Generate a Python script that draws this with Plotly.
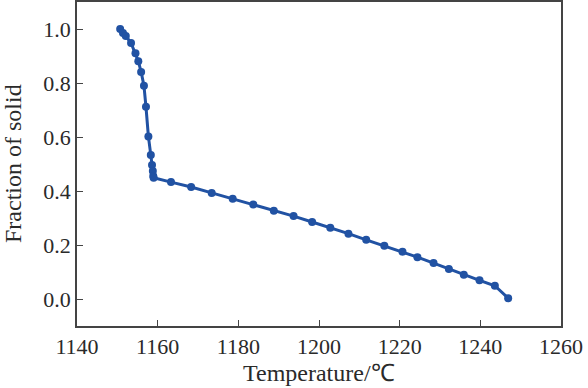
import plotly.graph_objects as go

temperature = [1150.7, 1151.4, 1152.1, 1153.4, 1154.5, 1155.2, 1155.9, 1156.6, 1157.1,
               1157.7, 1158.3, 1158.6, 1158.8, 1158.9, 1159.0,
               1163.3, 1168.3, 1173.4, 1178.6, 1183.7, 1188.8, 1193.7, 1198.3, 1202.8,
               1207.3, 1211.7, 1216.2, 1220.7, 1224.4, 1228.4, 1232.2, 1235.9, 1239.8,
               1243.6, 1246.9]
fraction_solid = [1.000, 0.985, 0.974, 0.948, 0.910, 0.881, 0.841, 0.790, 0.712,
                  0.602, 0.533, 0.496, 0.474, 0.456, 0.449,
                  0.433, 0.415, 0.393, 0.371, 0.350, 0.327, 0.307, 0.285, 0.264,
                  0.242, 0.219, 0.197, 0.175, 0.155, 0.133, 0.111, 0.090, 0.069,
                  0.049, 0.003]
x_ticks = [1140, 1160, 1180, 1200, 1220, 1240, 1260]
y_ticks = [0.0, 0.2, 0.4, 0.6, 0.8, 1.0]
y_tick_labels = ["0.0", "0.2", "0.4", "0.6", "0.8", "1.0"]
x_title = "Temperature/℃"
y_title = "Fraction of solid"

blue = "#2152a3"
axis_col = "#444444"
font_fam = "Liberation Serif, Times New Roman, serif"

fig = go.Figure(go.Scatter(
    x=temperature, y=fraction_solid, mode="lines+markers",
    line=dict(color=blue, width=3),
    marker=dict(color=blue, size=8),
    showlegend=False,
))

fig.update_layout(
    width=588, height=388,
    margin=dict(l=77, r=27, t=2, b=62, autoexpand=False),
    paper_bgcolor="white", plot_bgcolor="white",
    font=dict(family=font_fam, color="#2a2a2a", size=22),
)
fig.update_xaxes(
    range=[1140, 1260], tickvals=x_ticks, ticks="inside", ticklen=6, tickwidth=1.3,
    tickcolor=axis_col, showline=True, linecolor=axis_col, linewidth=1.5, mirror=True,
    showgrid=False, zeroline=False, automargin=False,
)
fig.update_yaxes(
    range=[-0.1, 1.1], tickvals=y_ticks, ticktext=y_tick_labels, ticks="inside", ticklen=6,
    tickwidth=1.3, tickcolor=axis_col, showline=True, linecolor=axis_col, linewidth=1.5,
    mirror=True, showgrid=False, zeroline=False, automargin=False,
)
fig.add_annotation(text=x_title, xref="paper", yref="paper", x=0.5, y=0,
                   yshift=-47, showarrow=False, font=dict(size=24),
                   xanchor="center", yanchor="middle")
fig.add_annotation(text=y_title, xref="paper", yref="paper", x=0, y=0.5,
                   xshift=-64, showarrow=False, font=dict(size=24), textangle=-90,
                   xanchor="center", yanchor="middle")

fig.write_html("out.html", config={"displayModeBar": False},
               post_script="document.body.style.margin='0';document.body.style.padding='0';")
